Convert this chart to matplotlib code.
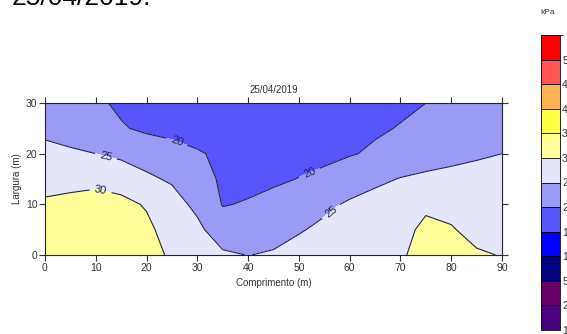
import numpy as np
import matplotlib.pyplot as plt
from matplotlib.colors import ListedColormap, BoundaryNorm
import matplotlib as mpl

plt.rcParams['font.family'] = ['Liberation Sans', 'DejaVu Sans']

# grid (m)
comprimento = np.arange(0, 91, 5)
largura = np.array([0, 5, 10, 15, 20, 25, 30])

# kPa, one row per largura value
z_y0 = [34.0, 34.5, 34.5, 33.5, 31.5, 29.4, 27.0, 25.8, 24.9, 25.6, 26.8, 27.8, 28.6, 29.3, 29.8, 30.6, 30.5, 30.3, 29.9]
z_y5 = [32.5, 32.8, 33.0, 32.5, 31.0, 28.0, 26.2, 22.0, 21.5, 22.8, 24.6, 26.0, 27.4, 28.4, 29.3, 30.5, 30.2, 29.2, 28.5]
z_y10 = [30.8, 31.2, 31.5, 31.2, 29.6, 27.0, 23.8, 19.8, 20.3, 21.2, 22.4, 24.0, 25.6, 26.8, 27.8, 29.6, 29.2, 29.0, 28.6]
z_y15 = [28.0, 28.6, 29.0, 28.0, 25.8, 24.4, 22.0, 19.3, 19.0, 19.4, 20.1, 20.8, 22.6, 24.0, 25.2, 26.0, 26.6, 27.2, 27.6]
z_y20 = [26.2, 25.6, 25.0, 24.0, 23.0, 21.8, 20.4, 19.2, 18.6, 18.6, 18.8, 19.2, 19.7, 20.6, 21.8, 22.6, 23.4, 24.2, 25.0]
z_y25 = [24.0, 23.2, 22.0, 20.4, 19.2, 18.6, 18.2, 17.8, 17.6, 17.7, 18.0, 18.4, 18.9, 19.5, 20.2, 21.0, 21.8, 22.6, 23.4]
z_y30 = [22.5, 21.8, 20.8, 19.2, 18.5, 18.0, 17.5, 17.2, 17.0, 17.2, 17.5, 17.8, 18.2, 18.7, 19.3, 20.0, 20.7, 21.4, 22.0]

niveis = [1, 2, 5, 10, 15, 20, 25, 30, 35, 40, 45, 50, 55]
cores = ['#4b0082', '#680068', '#000080', '#0000ff', '#5555fa', '#9b9bf6',
         '#e6e6fa', '#ffff99', '#ffff44', '#ffb255', '#ff5555', '#ff0000']

Z = np.array([z_y0, z_y5, z_y10, z_y15, z_y20, z_y25, z_y30])
cmap = ListedColormap(cores)
norm = BoundaryNorm(niveis, cmap.N)

fig = plt.figure(figsize=(5.67, 3.34), dpi=100)
ax = fig.add_axes([45/567, 1 - 255/334, 457/567, 152/334])

ax.contourf(comprimento, largura, Z, levels=niveis, cmap=cmap, norm=norm)
cs = ax.contour(comprimento, largura, Z, levels=[20, 25, 30], colors='#22224a', linewidths=0.8)
ax.clabel(cs, fmt='%d', fontsize=8, colors='#22224a', inline=True,
          manual=[(12, 19.5), (11, 13), (26, 22.5), (52, 16.5), (56, 9)])

ax.set_xlim(0, 90)
ax.set_ylim(0, 30)
ax.set_xticks(range(0, 91, 10))
ax.set_yticks([0, 10, 20, 30])
ax.tick_params(direction='out', length=4, width=0.8, labelsize=7.5, colors='#333333',
               top=True, right=True, pad=1.5)
for s in ax.spines.values():
    s.set_color('#222233')
    s.set_linewidth(0.8)
ax.set_xlabel('Comprimento (m)', fontsize=7, color='#333333', labelpad=4)
ax.set_ylabel('Largura (m)', fontsize=7, color='#333333', labelpad=3)
ax.set_title('25/04/2019', fontsize=7, color='#333333', pad=7)

# colour scale
cax = fig.add_axes([541/567, 1 - 330/334, 19/567, 295/334])
cb = mpl.colorbar.ColorbarBase(cax, cmap=cmap, norm=norm, boundaries=niveis,
                               ticks=niveis[:-1], spacing='uniform', drawedges=True)
cb.outline.set_linewidth(0.6)
cb.dividers.set_linewidth(0.6)
cb.ax.tick_params(length=0, labelsize=7.5, pad=1.5, colors='#333333')
fig.text(548/567, 1 - 13/334, 'kPa', fontsize=6, ha='center', va='center', color='#333333')

fig.text(12/567, 1 - 5/334, '25/04/2019.', fontsize=19, ha='left', va='baseline')

fig.savefig('out.png', dpi=100)
